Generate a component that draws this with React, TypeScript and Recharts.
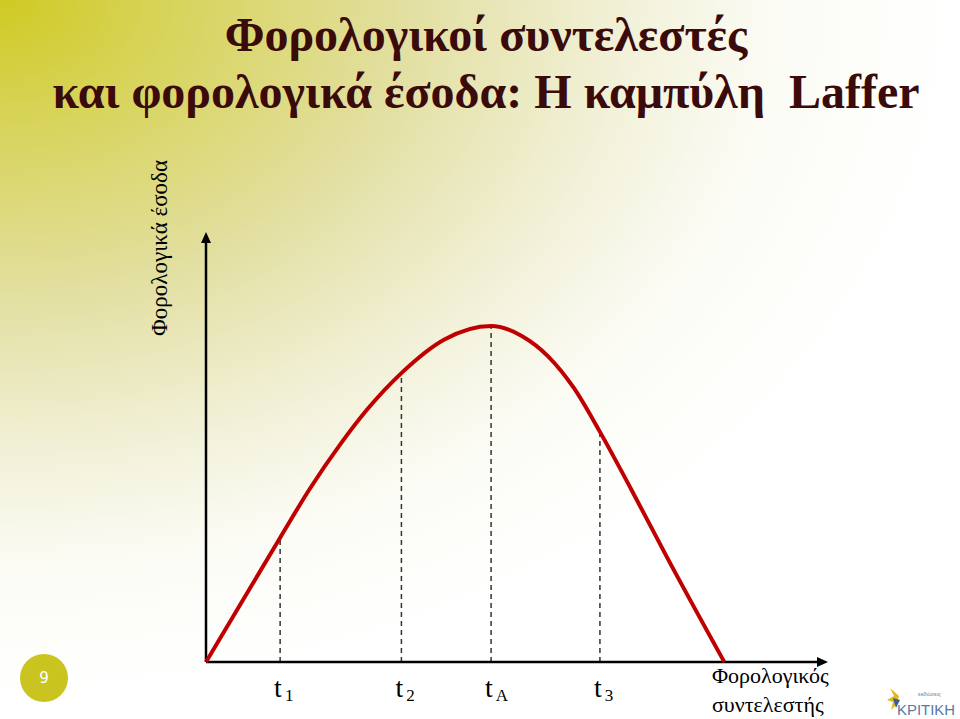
import { LineChart, Line, XAxis, YAxis, ReferenceLine } from "recharts";

// Laffer curve: tax rate (%) vs tax revenue (peak = 100)
const taxRates = [0, 14.3, 20, 26, 31, 37.7, 46, 55, 61, 66, 71, 76, 82, 89, 100];
const revenue = [0, 37, 51.5, 65, 75, 86, 96, 100, 97, 91, 81.5, 68.5, 51.5, 31, 0];

// dashed markers t1, t2, tA, t3
const markerRates = [14.3, 37.7, 55, 76];
const markerRevenue = [37, 86, 100, 68.5];
const markerSubs = ["1", "2", "A", "3"];

const titleLines = ["Φορολογικοί συντελεστές", "και φορολογικά έσοδα: Η καμπύλη  Laffer"];
const yLabel = "Φορολογικά έσοδα";
const xLabelLines = ["Φορολογικός", "συντελεστής"];

const data = taxRates.map((t, i) => ({ rate: t, revenue: revenue[i] }));

const serif = "'Liberation Serif', 'Times New Roman', serif";

const ArrowLine = (p: any) => {
  const { x1, y1, x2, y2 } = p;
  const ang = Math.atan2(y2 - y1, x2 - x1);
  const len = 11;
  const w = 5;
  const bx = x2 - len * Math.cos(ang);
  const by = y2 - len * Math.sin(ang);
  const nx = -Math.sin(ang) * w;
  const ny = Math.cos(ang) * w;
  return (
    <g>
      <line x1={x1} y1={y1} x2={bx} y2={by} stroke="#000" strokeWidth={2.5} />
      <polygon points={`${x2},${y2} ${bx + nx},${by + ny} ${bx - nx},${by - ny}`} fill="#000" />
    </g>
  );
};

const TaxTick = (props: any) => {
  const { x, y, payload } = props;
  const i = markerRates.indexOf(payload.value);
  return (
    <text x={x - 6} y={y + 27} fontFamily={serif} fontSize={28} fill="#000">
      t
      <tspan dx={3} dy={4} fontSize={17}>
        {markerSubs[i]}
      </tspan>
    </text>
  );
};

export default function App() {
  return (
    <div
      style={{
        position: "absolute",
        left: 0,
        top: 0,
        width: 960,
        height: 719,
        overflow: "hidden",
        background:
          "radial-gradient(960px 700px at 0 0, #cfca22 0%, #d6d250 14%, #e2dfa0 42%, #f1f0d6 64%, #fbfbf4 80%, #ffffff 100%)",
      }}
    >
      <div
        style={{
          position: "absolute",
          left: 0,
          width: 972,
          top: 6,
          textAlign: "center",
          fontFamily: serif,
          fontWeight: "bold",
          fontSize: 48,
          lineHeight: "57px",
          color: "#3b0a0a",
          whiteSpace: "pre",
        }}
      >
        {titleLines.map((l) => (
          <div key={l}>{l}</div>
        ))}
      </div>

      <div
        style={{
          position: "absolute",
          left: 160,
          top: 248,
          transform: "translate(-50%, -50%) rotate(-90deg)",
          fontFamily: serif,
          fontSize: 23,
          whiteSpace: "nowrap",
          color: "#000",
        }}
      >
        {yLabel}
      </div>

      <div
        style={{
          position: "absolute",
          left: 712,
          top: 661,
          fontFamily: serif,
          fontSize: 22,
          lineHeight: "29px",
          color: "#000",
        }}
      >
        {xLabelLines.map((l) => (
          <div key={l}>{l}</div>
        ))}
      </div>

      <div
        style={{
          position: "absolute",
          left: 20,
          top: 654,
          width: 48,
          height: 48,
          borderRadius: "50%",
          background: "#c9c41f",
          color: "#fff",
          fontFamily: "'DejaVu Sans', sans-serif",
          fontSize: 15,
          lineHeight: "48px",
          textAlign: "center",
        }}
      >
        9
      </div>

      <svg style={{ position: "absolute", left: 884, top: 686 }} width={76} height={33}>
        <polygon points="6,2 10,10 3,14 9,16 7,24 13,18 15,10" fill="#e0b820" />
        <polygon points="9,12 16,14 12,22" fill="#3c5d9a" />
        <text x={34} y={10} fontSize={6} fill="#6a7fa6" fontFamily="'Liberation Sans', sans-serif">
          εκδόσεις
        </text>
        <text
          x={13}
          y={29}
          fontSize={15}
          textLength={58}
          lengthAdjust="spacingAndGlyphs"
          fill="#5a78a8"
          fontFamily="'Liberation Sans', sans-serif"
        >
          ΚΡΙΤΙΚΗ
        </text>
      </svg>

      <LineChart
        width={960}
        height={719}
        data={data}
        margin={{ top: 232, right: 132, bottom: 27, left: 206 }}
        style={{ position: "absolute", left: 0, top: 0 }}
      >
        <XAxis
          dataKey="rate"
          type="number"
          domain={[0, 120]}
          ticks={markerRates}
          tick={<TaxTick />}
          tickLine={false}
          axisLine={false}
          height={30}
          interval={0}
        />
        <YAxis type="number" domain={[0, 128]} hide />
        {markerRates.map((t, i) => (
          <ReferenceLine
            key={t}
            segment={[
              { x: t, y: 0 },
              { x: t, y: markerRevenue[i] },
            ]}
            stroke="#333"
            strokeWidth={1.5}
            strokeDasharray="5 4"
          />
        ))}
        <ReferenceLine
          segment={[
            { x: 0, y: 0 },
            { x: 120, y: 0 },
          ]}
          shape={ArrowLine}
        />
        <ReferenceLine
          segment={[
            { x: 0, y: 0 },
            { x: 0, y: 128 },
          ]}
          shape={ArrowLine}
        />
        <Line
          type="monotone"
          dataKey="revenue"
          stroke="#c00000"
          strokeWidth={4}
          dot={false}
          activeDot={false}
          isAnimationActive={false}
        />
      </LineChart>
    </div>
  );
}
